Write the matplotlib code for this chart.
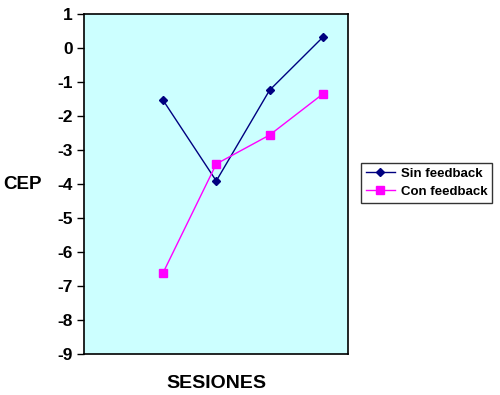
import matplotlib
matplotlib.use("Agg")
import matplotlib.pyplot as plt

sesiones = [1, 2, 3, 4]
sin_feedback = [-1.53, -3.91, -1.24, 0.32]
con_feedback = [-6.62, -3.41, -2.56, -1.35]
yticks = list(range(-9, 2))

plt.rcParams['font.family'] = ['Liberation Sans', 'DejaVu Sans']
fig = plt.figure(figsize=(5.0, 3.95), dpi=100)
W, H = 500, 395
ax = fig.add_axes([84 / W, 1 - 354 / H, (348 - 84) / W, (354 - 14) / H])
ax.set_facecolor('#CCFFFF')
ax.plot(sesiones, sin_feedback, color='#000080', marker='D', markersize=4.5, lw=1, label='Sin feedback')
ax.plot(sesiones, con_feedback, color='#FF00FF', marker='s', markersize=6, lw=1, label='Con feedback')
ax.set_ylim(-9, 1)
ax.set_xlim(-0.48, 4.47)
ax.set_yticks(yticks)
ax.set_yticklabels([str(t) for t in yticks], fontsize=12.5, fontweight='bold')
ax.set_xticks([])
ax.tick_params(axis='y', direction='out', length=5, width=1, pad=3)
for s in ax.spines.values():
    s.set_linewidth(1.2)
fig.text(23 / W, 1 - 184 / H, 'CEP', fontsize=13.5, fontweight='bold', ha='center', va='center')
fig.text(216 / W, 1 - 384 / H, 'SESIONES', fontsize=14, fontweight='bold', ha='center', va='center')
leg = fig.legend(loc='upper left', bbox_to_anchor=(361 / W, 1 - 163 / H),
                 prop={'size': 9.5, 'weight': 'bold'},
                 frameon=True, fancybox=False, edgecolor='black', borderpad=0.35,
                 handlelength=2.2, handletextpad=0.5, labelspacing=0.45, borderaxespad=0)
leg.get_frame().set_linewidth(1)
fig.savefig('out.png', dpi=100)
